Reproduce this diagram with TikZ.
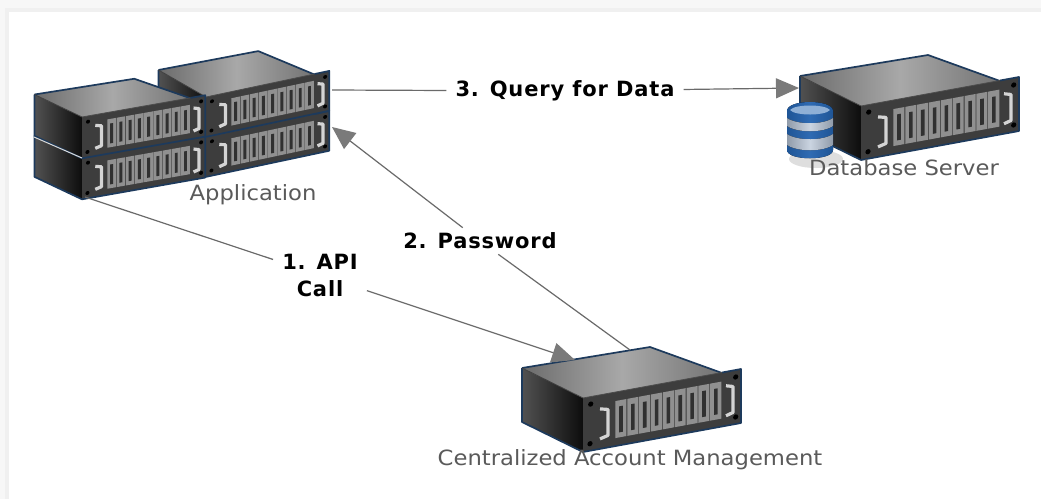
\documentclass[tikz,border=0pt]{standalone}
\usepackage{fontspec}
\setmainfont{DejaVu Sans}
\newfontfamily\lblfont[FakeStretch=1.08]{DejaVu Sans}
\newfontfamily\stepfont[LetterSpace=4]{DejaVu Sans Bold}
\usetikzlibrary{arrows.meta}
\definecolor{navy}{HTML}{1D3A5C}
\definecolor{panelc}{HTML}{3D3D3D}
\definecolor{cardc}{HTML}{909090}
\definecolor{slotc}{HTML}{303030}
\definecolor{handlec}{HTML}{D4D4D4}
\definecolor{conn}{HTML}{6A6A6A}
\definecolor{headc}{HTML}{7A7A7A}
\definecolor{txtc}{HTML}{5A5A5A}
\definecolor{dbblue}{HTML}{2F6BB3}
\definecolor{dbdark}{HTML}{1F5596}
\definecolor{dbsilver}{HTML}{B4C2D4}
\definecolor{dbcap}{HTML}{8FB0D6}
\tikzset{
  link/.style={draw=conn,line width=1.2pt},
  arrowed/.style={link,-{Triangle[length=23pt,width=20pt,color=headc]}},
  steplabel/.style={font=\stepfont\fontsize{21}{27}\selectfont,text=black,align=center,inner xsep=9pt,inner ysep=5pt},
  servlabel/.style={font=\lblfont\fontsize{21}{25}\selectfont,text=txtc,inner sep=0pt},
  rim/.style={draw=navy,line width=1.7pt,line join=round},
}
% x, y of the panel's top-left corner, horizontal scale, vertical scale, panel height factor
\newcommand{\rackunit}[5]{%
\begin{scope}[shift={(#1,#2)},xscale=#3,yscale=#4]
  \pgfmathsetmacro{\ph}{54*#5}
  \pgfmathsetmacro{\pb}{\ph-30}
  \shade[left color=black!68,right color=black!95] (-61,-30) -- (0,0) -- (0,\ph) -- (-61,\pb) -- cycle;
  \draw[rim] (-61,-30) -- (-61,\pb) -- (0,\ph);
  \shade[left color=black!58,right color=black!55,middle color=black!34] (-61,-30) -- (67,-51) -- (139,-25) -- (0,0) -- cycle;
  \draw[rim] (-61,-30) -- (67,-51) -- (139,-25);
  \draw[black!75,line width=.8pt] (-61,-30) -- (0,0);
  \begin{scope}[yslant=0.1835,yscale=#5]
    \fill[panelc] (0,0) rectangle (158,54);
    \draw[rim] (0,54) -- (158,54) -- (158,0) -- (139,0);
    \draw[black!70,line width=.8pt] (0,0) -- (139,0);
    \foreach \i in {0,...,8} {
      \fill[cardc] ({32+11.85*\i+.4},9) rectangle ({32+11.85*(\i+1)-.4},46);
      \fill[slotc] ({32+11.85*\i+4.2},15) rectangle ({32+11.85*\i+7.8},41);
    }
    \foreach \u/\v in {7.7/7.5,7/47,152.7/7,152.7/47}
      \fill[black] (\u,\v) circle (2.6);
    \draw[handlec,line width=3.2pt,line join=round] (17,14) -- (25,16) -- (25,42) -- (17,44);
    \draw[handlec,line width=3.2pt,line join=round] (143,14) -- (150,16) -- (150,42) -- (143,44);
  \end{scope}
\end{scope}}
\begin{document}
\begin{tikzpicture}[x=1pt,y=-1pt]
\useasboundingbox (0,0) rectangle (1041,499);
\fill[black!3] (0,0) rectangle (1041,499);
\fill[black!6] (5,8) rectangle (1041,499);
\fill[white] (9,12) rectangle (1041,499);

% Application: right stack, then left stack
\rackunit{206}{137}{.78}{.9}{.82}
\rackunit{206}{97}{.78}{.9}{.82}
\rackunit{82}{158}{.78}{.75}{1.02}
\rackunit{82}{117}{.78}{.75}{1.02}
\draw[black!15,line width=1pt] (34,137) -- (82,158);

% Database server
\rackunit{861}{106}{1}{1}{1}
\fill[black!13] (816,159) ellipse [x radius=27,y radius=9];
\fill[left color=dbdark,right color=dbdark,middle color=dbblue]
  (787,111) .. controls (787,99) and (833,99) .. (833,111) -- (833,150)
  .. controls (833,161) and (787,161) .. (787,150) -- cycle;
\fill[left color=dbsilver!80!black,right color=dbsilver!80!black,middle color=dbsilver!70!white]
  (787,118) .. controls (797,125) and (823,125) .. (833,118) -- (833,126)
  .. controls (823,133) and (797,133) .. (787,126) -- cycle;
\fill[left color=dbsilver!80!black,right color=dbsilver!80!black,middle color=dbsilver!70!white]
  (787,134) .. controls (797,141) and (823,141) .. (833,134) -- (833,145)
  .. controls (823,152) and (797,152) .. (787,145) -- cycle;
\fill[dbcap] (790,110) .. controls (795,104) and (825,104) .. (830,110)
  .. controls (825,116) and (795,116) .. (790,110) -- cycle;

% Centralized account management
\rackunit{583}{398}{1}{1}{1}

% Connection points
\coordinate (appq) at (332,90);
\coordinate (dbq) at (799,88);
\coordinate (apppw) at (332,127);
\coordinate (campw) at (630,350);
\coordinate (appapi) at (85,197);
\coordinate (camapi) at (575,360);

\node[steplabel] (q3) at (565,91) {3. Query for Data};
\node[steplabel] (pw2) at (480,241) {2. Password};
\node[steplabel] (api1) at (320,275) {1. API\\Call};

\draw[link] (appq) -- (q3);
\draw[arrowed] (q3) -- (dbq);
\draw[link] (campw) -- (pw2);
\draw[arrowed] (pw2) -- (apppw);
\draw[link] (appapi) -- (api1);
\draw[arrowed] (api1) -- (camapi);

\node[servlabel] (applbl) at (253,194.5) {Application};
\node[servlabel] (dblbl) at (904,168) {Database Server};
\node[servlabel] (camlbl) at (630,459.5) {Centralized Account Management};
\end{tikzpicture}
\end{document}
